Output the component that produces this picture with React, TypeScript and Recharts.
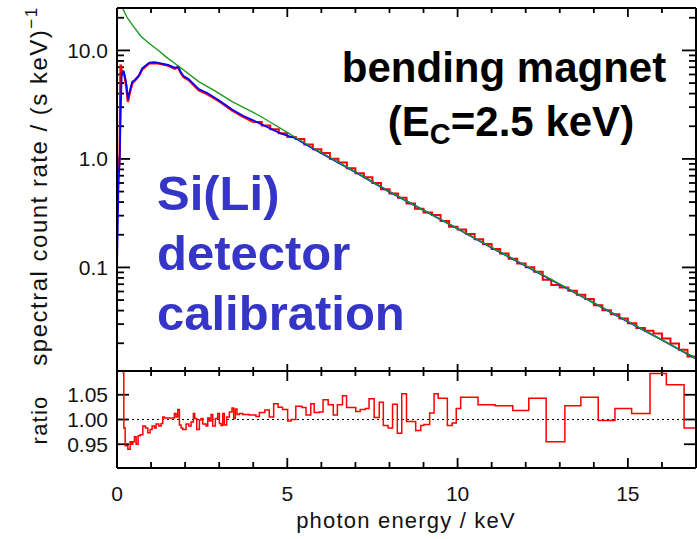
import { LineChart, Line, XAxis, YAxis, ReferenceLine } from "recharts";

const FONT = "'Liberation Sans', Arial, sans-serif";

// green: bending magnet source spectrum
const sourceEnergy = [0.15, 0.3, 0.45, 0.7, 0.94, 1.2, 1.43, 1.82, 2.4, 2.9, 3.38, 4.0, 4.36, 5.0, 5.34, 6, 7, 8, 9, 10, 11, 12, 13, 14, 15, 16, 17];
const sourceRate = [25, 20, 17.2, 13.5, 11.65, 10.1, 8.77, 7.1, 5.16, 4.2, 3.37, 2.69, 2.32, 1.76, 1.51, 1.14, 0.76, 0.5, 0.338, 0.228, 0.153, 0.104, 0.07, 0.0472, 0.0318, 0.0215, 0.0145];

// blue: detector response model
const modelEnergy = [0, 0.04, 0.08, 0.11, 0.14, 0.2, 0.27, 0.32, 0.37, 0.45, 0.53, 0.65, 0.74, 0.95, 1.1, 1.25, 1.5, 1.7, 1.8, 1.86, 1.95, 2.1, 2.4, 2.65, 3.0, 3.38, 3.7, 4.0, 4.36, 4.8, 5.24, 5.6, 6, 7, 8, 9, 10, 11, 12, 13, 14, 15, 16, 17];
const modelRate = [0.095, 0.52, 1.05, 3.0, 6.2, 6.4, 5.0, 3.55, 4.17, 5.16, 5.35, 5.94, 6.85, 7.72, 7.78, 7.65, 7.35, 6.9, 7.1, 6.4, 5.8, 5.45, 4.4, 4.05, 3.45, 2.85, 2.5, 2.27, 2.0, 1.72, 1.55, 1.33, 1.13, 0.755, 0.497, 0.336, 0.227, 0.152, 0.103, 0.0695, 0.047, 0.0316, 0.0214, 0.0144];

// red: measured spectrum below 4 keV
const lowEnergy = [0.05, 0.08, 0.1, 0.11, 0.13, 0.17, 0.22, 0.27, 0.32, 0.37, 0.45, 0.53, 0.65, 0.74, 0.95, 1.2, 1.5, 1.7, 1.8, 1.86, 1.95, 2.1, 2.4, 2.65, 3.0, 3.38, 3.7, 4.0];
const lowRate = [0.75, 1.1, 5.5, 7.4, 6.6, 6.3, 5.9, 4.7, 3.35, 4.0, 5.0, 5.3, 5.85, 6.7, 7.6, 7.6, 7.25, 6.8, 7.0, 6.3, 5.7, 5.35, 4.3, 3.95, 3.4, 2.8, 2.45, 2.19];

// red: measured spectrum above 4 keV, histogram bin edges and counts
const countEdge = [4.0, 4.25, 4.5, 4.75, 5.0, 5.25, 5.5, 5.75, 6.0, 6.25, 6.5, 6.75, 7.0, 7.25, 7.5, 7.75, 8.0, 8.25, 8.5, 8.75, 9.0, 9.25, 9.5, 9.75, 10.0, 10.25, 10.5, 10.75, 11.0, 11.25, 11.5, 11.75, 12.0, 12.25, 12.5, 12.75, 13.0, 13.25, 13.5, 13.75, 14.0, 14.25, 14.5, 14.75, 15.0, 15.25, 15.5, 15.75, 16.0, 16.25, 16.5, 16.75, 17.0];
const countRate = [2.19, 2.03, 1.88, 1.725, 1.596, 1.523, 1.361, 1.227, 1.133, 1.001, 0.925, 0.822, 0.738, 0.677, 0.5995, 0.5265, 0.481, 0.4397, 0.3889, 0.3474, 0.3199, 0.3034, 0.2673, 0.2372, 0.2234, 0.2031, 0.1821, 0.164, 0.1482, 0.1341, 0.1204, 0.1088, 0.1006, 0.0913, 0.0769, 0.0687, 0.0653, 0.061, 0.056, 0.0511, 0.0448, 0.0402, 0.0371, 0.0339, 0.0306, 0.0277, 0.0261, 0.0246, 0.0221, 0.0199, 0.0174, 0.01506];

// ratio panel: bin edges (keV) and measured / model
const binEdge = [0.16, 0.2, 0.24, 0.318, 0.386, 0.425, 0.464, 0.513, 0.562, 0.62, 0.68, 0.758, 0.836, 0.904, 0.973, 1.031, 1.1, 1.149, 1.227, 1.295, 1.344, 1.393, 1.686, 1.735, 1.784, 1.833, 1.882, 1.931, 2.028, 2.107, 2.175, 2.243, 2.282, 2.341, 2.419, 2.468, 2.517, 2.615, 2.664, 2.713, 2.761, 2.81, 2.888, 2.957, 3.006, 3.055, 3.104, 3.152, 3.221, 3.299, 3.377, 3.426, 3.475, 3.524, 3.592, 3.69, 3.886, 4.081, 4.18, 4.34, 4.47, 4.6, 4.73, 4.86, 5.01, 5.11, 5.25, 5.43, 5.55, 5.69, 5.79, 5.94, 6.05, 6.2, 6.35, 6.47, 6.62, 6.74, 7.01, 7.14, 7.29, 7.4, 7.55, 7.7, 7.82, 7.96, 8.09, 8.23, 8.36, 8.5, 8.77, 8.92, 9.01, 9.18, 9.31, 9.43, 9.7, 9.84, 9.96, 10.09, 10.6, 11.1, 11.62, 12.09, 12.6, 13.15, 13.62, 14.13, 14.62, 15.11, 15.65, 16.13, 16.65, 17.0];
const ratioVal = [1.094, 0.983, 0.947, 0.94, 0.955, 0.95, 0.955, 0.965, 0.95, 0.967, 0.969, 0.987, 0.983, 0.973, 0.98, 0.987, 0.983, 0.991, 0.987, 0.992, 1.005, 1.003, 1.012, 1.005, 1.02, 0.989, 0.983, 0.98, 0.991, 0.987, 0.995, 1.012, 1.002, 0.98, 0.999, 1.002, 0.991, 0.987, 1.003, 0.997, 1.01, 0.987, 1.002, 1.012, 0.992, 0.988, 1.012, 0.989, 1.005, 1.015, 1.023, 1.002, 1.021, 1.01, 1.012, 1.01, 1.009, 1.006, 1.014, 1.019, 1.005, 1.032, 1.025, 1.02, 0.997, 1.0, 1.027, 1.024, 1.009, 1.032, 1.014, 1.015, 1.04, 1.03, 1.009, 1.03, 1.048, 1.024, 1.016, 1.02, 1.022, 1.042, 1.004, 1.035, 0.988, 0.983, 1.031, 0.972, 1.052, 0.996, 0.978, 0.988, 0.99, 1.013, 1.052, 1.043, 0.988, 0.993, 1.022, 1.045, 1.03, 1.028, 1.018, 1.043, 0.955, 1.028, 1.045, 0.998, 1.022, 1.012, 1.093, 1.07, 0.983];

const xMajor = [0, 5, 10, 15];
const xInner = [1, 2, 3, 4, 5, 6, 7, 8, 9, 10, 11, 12, 13, 14, 15, 16];
const yMajor = [0.1, 1, 10];
const yAll = [0.02, 0.03, 0.04, 0.05, 0.06, 0.07, 0.08, 0.09, 0.1, 0.2, 0.3, 0.4, 0.5, 0.6, 0.7, 0.8, 0.9, 1, 2, 3, 4, 5, 6, 7, 8, 9, 10, 20];
const rMajor = [0.95, 1.0, 1.05];

const pts = (xs: number[], ys: number[]) => xs.map((e, i) => ({ e, v: ys[i] }));
const steps = (edges: number[], vals: number[]) =>
  edges.map((e, i) => ({ e, v: vals[Math.min(i, vals.length - 1)] }));

const sourceData = pts(sourceEnergy, sourceRate);
const modelData = pts(modelEnergy, modelRate);
const lowData = pts(lowEnergy, lowRate);
const countData = steps(countEdge, countRate);
const ratioData = steps(binEdge, ratioVal);

const RATE_DOMAIN = [0.0111, 24.6];
const RATIO_DOMAIN = [0.902, 1.098];

const axisStyle = { stroke: "#000", strokeWidth: 2 };
const tickFont = { fontSize: 21, fill: "#111", fontFamily: FONT };
const isMajor = (list: number[], v: number) => list.some((m) => Math.abs(m - v) < 1e-9);

// inward tick marks at both ends of a reference line
const EdgeTicks = (p: any) => {
  const { x1, y1, x2, y2, lenA, lenB } = p;
  const s = { stroke: "#000", strokeWidth: 1.8 };
  if (Math.abs(x1 - x2) < 0.5) {
    const top = Math.min(y1, y2);
    const bot = Math.max(y1, y2);
    return (
      <g>
        <line x1={x1} x2={x1} y1={bot} y2={bot - lenA} {...s} />
        <line x1={x1} x2={x1} y1={top} y2={top + lenB} {...s} />
      </g>
    );
  }
  const left = Math.min(x1, x2);
  const right = Math.max(x1, x2);
  return (
    <g>
      <line x1={left} x2={left + lenA} y1={y1} y2={y1} {...s} />
      <line x1={right} x2={right - lenB} y1={y1} y2={y1} {...s} />
    </g>
  );
};

const xTickLines = (bot: number[], top: number[]) =>
  xInner.map((v) => {
    const m = isMajor(xMajor, v);
    return (
      <ReferenceLine key={"x" + v} xAxisId="b" yAxisId="l" x={v} stroke="none"
        shape={<EdgeTicks lenA={m ? bot[0] : bot[1]} lenB={m ? top[0] : top[1]} />} />
    );
  });

const App = () => {
  return (
    <div style={{ position: "absolute", left: 0, top: 0, width: 697, height: 539, background: "#fff" }}>
      <div style={{ position: "absolute", left: 0, top: 0 }}>
        <LineChart width={697} height={372} margin={{ top: 7, right: 0, bottom: 0, left: 0 }}>
          <XAxis xAxisId="b" dataKey="e" type="number" domain={[0, 17]} allowDataOverflow ticks={xMajor} interval={0}
            height={1} tickLine={false} axisLine={axisStyle} tick={false} />
          <XAxis xAxisId="t" orientation="top" dataKey="e" type="number" domain={[0, 17]} allowDataOverflow ticks={xMajor} interval={0}
            height={1} tickLine={false} axisLine={axisStyle} tick={false} />
          <YAxis yAxisId="l" scale="log" type="number" domain={RATE_DOMAIN} allowDataOverflow ticks={yMajor} interval={0}
            width={117} tickSize={-13} tickMargin={22} tickLine={false} axisLine={axisStyle}
            tick={tickFont} tickFormatter={(v: number) => v.toFixed(1)} />
          <YAxis yAxisId="r" orientation="right" scale="log" type="number" domain={RATE_DOMAIN} allowDataOverflow ticks={yMajor} interval={0}
            width={1} tickLine={false} axisLine={axisStyle} tick={false} />
          {xTickLines([7, 4], [9, 5])}
          {yAll.map((v) => {
            const m = isMajor(yMajor, v);
            return (
              <ReferenceLine key={"y" + v} xAxisId="b" yAxisId="l" y={v} stroke="none"
                shape={<EdgeTicks lenA={m ? 13 : 7} lenB={m ? 14 : 7} />} />
            );
          })}
          <Line xAxisId="b" yAxisId="l" data={lowData} dataKey="v" type="linear" stroke="#ff0000" strokeWidth={2.4} dot={false} isAnimationActive={false} />
          <Line xAxisId="b" yAxisId="l" data={countData} dataKey="v" type="stepAfter" stroke="#ff0000" strokeWidth={2} dot={false} isAnimationActive={false} />
          <Line xAxisId="b" yAxisId="l" data={modelData} dataKey="v" type="linear" stroke="#0000ff" strokeWidth={1.8} dot={false} isAnimationActive={false} />
          <Line xAxisId="b" yAxisId="l" data={sourceData} dataKey="v" type="linear" stroke="#1f9a1f" strokeWidth={1.4} dot={false} isAnimationActive={false} />
        </LineChart>
      </div>
      <div style={{ position: "absolute", left: 0, top: 360 }}>
        <LineChart width={697} height={179} margin={{ top: 10, right: 0, bottom: 0, left: 0 }}>
          <XAxis xAxisId="b" dataKey="e" type="number" domain={[0, 17]} allowDataOverflow ticks={xMajor} interval={0}
            height={71} tickSize={-10} tickMargin={28} tickLine={false} axisLine={axisStyle} tick={tickFont} />
          <XAxis xAxisId="t" orientation="top" dataKey="e" type="number" domain={[0, 17]} allowDataOverflow ticks={xMajor} interval={0}
            height={1} tickLine={false} axisLine={axisStyle} tick={false} />
          <YAxis yAxisId="l" type="number" domain={RATIO_DOMAIN} allowDataOverflow ticks={rMajor} interval={0}
            width={117} tickSize={-12} tickMargin={21} tickLine={false} axisLine={axisStyle}
            tick={tickFont} tickFormatter={(v: number) => v.toFixed(2)} />
          <YAxis yAxisId="r" orientation="right" type="number" domain={RATIO_DOMAIN} allowDataOverflow ticks={rMajor} interval={0}
            width={1} tickLine={false} axisLine={axisStyle} tick={false} />
          {xTickLines([10, 6], [10, 5])}
          {rMajor.map((v) => (
            <ReferenceLine key={"r" + v} xAxisId="b" yAxisId="l" y={v} stroke="none"
              shape={<EdgeTicks lenA={12} lenB={12} />} />
          ))}
          <ReferenceLine xAxisId="b" yAxisId="l" y={1} stroke="#000" strokeWidth={1.2} strokeDasharray="2 3" />
          <Line xAxisId="b" yAxisId="l" data={ratioData} dataKey="v" type="stepAfter" stroke="#ff0000" strokeWidth={1.5} dot={false} isAnimationActive={false} />
        </LineChart>
      </div>
      <svg width={697} height={539} style={{ position: "absolute", left: 0, top: 0, pointerEvents: "none" }}>
        <g fontFamily={FONT} fill="#111">
          <text transform="translate(47,186) rotate(-90)" textAnchor="middle" fontSize={24} letterSpacing={1.5}>
            spectral count rate / (s keV)<tspan dy={-10} fontSize={17}>−1</tspan>
          </text>
          <text transform="translate(47,420) rotate(-90)" textAnchor="middle" fontSize={22} letterSpacing={1.2}>ratio</text>
          <text x={406} y={528} textAnchor="middle" fontSize={22} letterSpacing={1.2}>photon energy / keV</text>
        </g>
        <g fontFamily={FONT} fontWeight="bold">
          <text x={504} y={82} textAnchor="middle" fontSize={42} fill="#000">bending magnet</text>
          <text x={511} y={136} textAnchor="middle" fontSize={42} fill="#000">
            (E<tspan fontSize={29} dy={8}>C</tspan><tspan dy={-8}>=2.5 keV)</tspan>
          </text>
          <text x={157} y={210} fontSize={49} fill="#3535c8">Si(Li)</text>
          <text x={157} y={270} fontSize={49} fill="#3535c8">detector</text>
          <text x={157} y={330} fontSize={49} fill="#3535c8">calibration</text>
        </g>
      </svg>
    </div>
  );
};

export default App;
